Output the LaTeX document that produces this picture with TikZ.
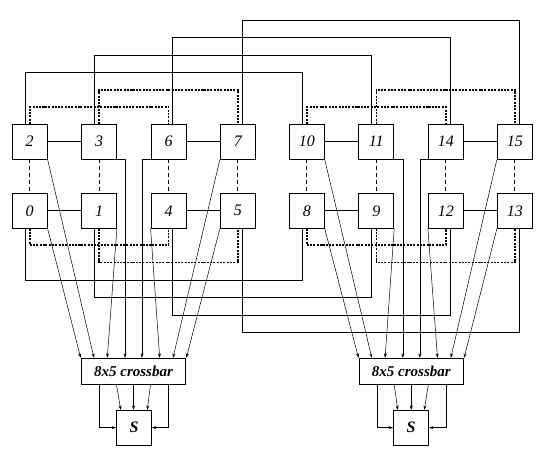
\documentclass[tikz,border=0pt]{standalone}
\usepackage{fontspec}
\setmainfont{Liberation Serif}
\usetikzlibrary{arrows.meta,calc}
\begin{document}
\begin{tikzpicture}[x=1pt,y=-1pt,
  rtr/.style={draw,line width=0.8pt,minimum width=35pt,minimum height=34.7pt,inner sep=0pt,font=\fontsize{16}{16}\selectfont\itshape},
  xbar/.style={draw,line width=0.8pt,minimum width=103.6pt,minimum height=26pt,inner sep=0pt,font=\fontsize{15}{15}\selectfont\bfseries\itshape},
  sbox/.style={draw,line width=0.8pt,minimum width=35pt,minimum height=34.7pt,inner sep=0pt,font=\fontsize{16}{16}\selectfont\bfseries\itshape},
  link/.style={line width=0.8pt},
  vlink/.style={line width=0.8pt,dash pattern=on 4pt off 3pt},
  ring/.style={line width=1.6pt,dash pattern=on 2pt off 1.3pt on 2pt off 1.3pt on 2pt off 1.3pt on 2pt off 1.3pt on 2pt off 1.3pt on 2pt off 1.3pt on 2pt off 1.3pt on 2pt off 1.3pt on 2pt off 1.3pt on 4.5pt off 1.3pt},
  wire/.style={line width=0.5pt,-{Stealth[length=4.5pt,width=3pt]}}
]
\useasboundingbox (0,0) rectangle (544,454);

% routers
\foreach \lab/\x in {2/29.7,3/99,6/168.5,7/237.8,10/306.8,11/376.3,14/445.8,15/514.8}
  \node[rtr] (n\lab) at (\x,141.7) {\lab};
\foreach \lab/\x in {0/29.7,1/99,4/168.5,5/237.8,8/306.8,9/376.3,12/445.8,13/514.8}
  \node[rtr] (n\lab) at (\x,210.8) {\lab};

% crossbars and S
\node[xbar] (cb1) at (133.5,371.3) {8x5 crossbar};
\node[xbar] (cb2) at (411.3,371.3) {8x5 crossbar};
\node[sbox] (s1) at (134,427.7) {S};
\node[sbox] (s2) at (411,427.7) {S};

% horizontal local links
\foreach \a/\b in {2/3,6/7,0/1,4/5,10/11,14/15,8/9,12/13}
  \draw[link] (n\a) -- (n\b);
% vertical dashed links
\foreach \a/\b in {2/0,3/1,6/4,7/5,10/8,11/9,14/12,15/13}
  \draw[vlink] (n\a) -- (n\b);

% long solid links, top
\foreach \a/\b/\d/\y in {2/10/-4.5/72,3/11/-4.5/55.7,6/14/4.3/37.3,7/15/4.5/20.3}{
  \coordinate (ta) at ([xshift=\d pt]n\a.north);
  \coordinate (tb) at ([xshift=\d pt]n\b.north);
  \draw[link] (ta) |- (tb |- 0,\y) -- (tb);
}
% long solid links, bottom
\foreach \a/\b/\d/\y in {0/8/-4.5/280,1/9/-4.5/297,4/12/4.3/315.3,5/13/4.5/332}{
  \coordinate (ba) at ([xshift=\d pt]n\a.south);
  \coordinate (bb) at ([xshift=\d pt]n\b.south);
  \draw[link] (ba) |- (bb |- 0,\y) -- (bb);
}

% dotted rings
\foreach \a/\b/\y in {2/6/107,3/7/90,10/14/107,11/15/90}
  \draw[ring] (n\a.north) |- (n\b.north |- 0,\y) -- (n\b.north);
\foreach \a/\b/\y in {0/4/245,1/5/262.7,8/12/245,9/13/262.7}
  \draw[ring] (n\a.south) |- (n\b.south |- 0,\y) -- (n\b.south);

% router to crossbar wires
\foreach \g/\ra/\rb/\rc/\rd/\re/\rf/\rg/\rh in {1/0/2/1/3/6/4/7/5, 2/8/10/9/11/14/12/15/13}{
  \draw[wire] (n\ra.south east) -- ([xshift=-52.8pt]cb\g.north);
  \draw[wire] (n\rb.south east) -- ([xshift=-39.5pt]cb\g.north);
  \draw[wire] (n\rc.south east) -- ([xshift=-26.2pt]cb\g.north);
  \draw[wire] (n\rd.south east) -| ([xshift=-8.5pt]cb\g.north);
  \draw[wire] (n\re.south west) -| ([xshift=8.5pt]cb\g.north);
  \draw[wire] (n\rf.south west) -- ([xshift=26.2pt]cb\g.north);
  \draw[wire] (n\rg.south west) -- ([xshift=39.5pt]cb\g.north);
  \draw[wire] (n\rh.south west) -- ([xshift=52.8pt]cb\g.north);
}

% crossbar to S
\foreach \g in {1,2}{
  \draw[wire] ([xshift=-34.2pt]cb\g.south) |- (s\g.west);
  \draw[wire] ([xshift=-17pt]cb\g.south) -- ([xshift=-13.3pt]s\g.north);
  \draw[wire] (cb\g.south) -- (cb\g.south |- s\g.north);
  \draw[wire] ([xshift=17pt]cb\g.south) -- ([xshift=13.3pt]s\g.north);
  \draw[wire] ([xshift=34.5pt]cb\g.south) |- (s\g.east);
}
\end{tikzpicture}
\end{document}
